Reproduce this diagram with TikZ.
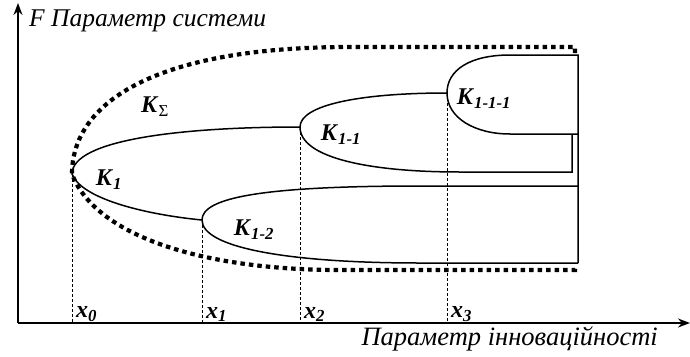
\documentclass[tikz,border=0pt]{standalone}
\usepackage{fontspec}
\setmainfont{Liberation Serif}
\usetikzlibrary{arrows.meta}
\newcommand{\Kl}[1]{\textbf{\textit{K}}\textsubscript{\textbf{\textit{#1}}}}
\newcommand{\Xl}[1]{\textbf{\textit{x}}\textsubscript{\textbf{\textit{#1}}}}
\begin{document}
\begin{tikzpicture}[x=1pt, y=-1pt,
    axis/.style={line width=1.6pt, -{Stealth[length=12pt, width=9pt]}},
    branch/.style={line width=1.5pt},
    hull/.style={line width=4.2pt, dash pattern=on 4.5pt off 4pt},
    guide/.style={densely dashed, line width=0.7pt},
    lab/.style={font=\fontsize{24}{26}\selectfont, inner sep=0pt},
    axlab/.style={font=\fontsize{25.5}{27}\selectfont\itshape, inner sep=0pt}]
    \useasboundingbox (0,0) rectangle (690,356);
    % axes
    \coordinate (o) at (18,323);
    \coordinate (ytop) at (18,3);
    \coordinate (xend) at (690,323);
    \draw[axis] (o) -- (ytop);
    \draw[axis] (o) -- (xend);
    \node[axlab, anchor=west] (ylab) at (29,21) {F Параметр системи};
    \node[axlab, anchor=east, font=\fontsize{26.5}{28}\selectfont\itshape] (xlab) at (658,339) {Параметр інноваційності};
    % branch points
    \coordinate (b0) at (72,174);
    \coordinate (b1) at (202,220);
    \coordinate (b2) at (300,127);
    \coordinate (b3) at (447,93);
    % K_Sigma (dotted hull)
    \draw[hull] (575,53) |- (350,47) .. controls (150,47) and (72,105) .. (b0)
        .. controls (95,235) and (200,270) .. (340,270) -| (575,265);
    % K_1
    \draw[branch] (b2) .. controls (180,127) and (72,140) .. (b0)
        .. controls (82,200) and (150,215) .. (b1);
    % K_1-2
    \draw[branch] (578,186) -- (420,186) .. controls (260,186) and (202,198) .. (b1)
        .. controls (202,248) and (290,263) .. (420,263) -- (578,263);
    % K_1-1
    \draw[branch] (b3) .. controls (360,93) and (300,105) .. (b2)
        .. controls (300,158) and (370,172) .. (460,172) -| (572,134);
    % K_1-1-1
    \draw[branch] (578,263) |- (510,55) .. controls (470,55) and (447,70) .. (b3)
        .. controls (447,118) and (475,134) .. (510,134) -- (578,134);
    % guides
    \foreach \p/\i in {b0/0, b1/1, b2/2, b3/3} {
        \draw[guide] (\p) -- (\p |- o);
        \node[lab, anchor=south west] (x\i) at ([xshift=4pt, yshift=1pt]\p |- o) {\Xl{\i}};
    }
    % labels
    \node[lab] (ks) at (155,107) {\textbf{\textit{K}}\textsubscript{Σ}};
    \node[lab] (k1) at (109,180) {\Kl{1}};
    \node[lab] (k11) at (341,135) {\Kl{1-1}};
    \node[lab] (k12) at (254,230) {\Kl{1-2}};
    \node[lab] (k111) at (484,99) {\Kl{1-1-1}};
\end{tikzpicture}
\end{document}
